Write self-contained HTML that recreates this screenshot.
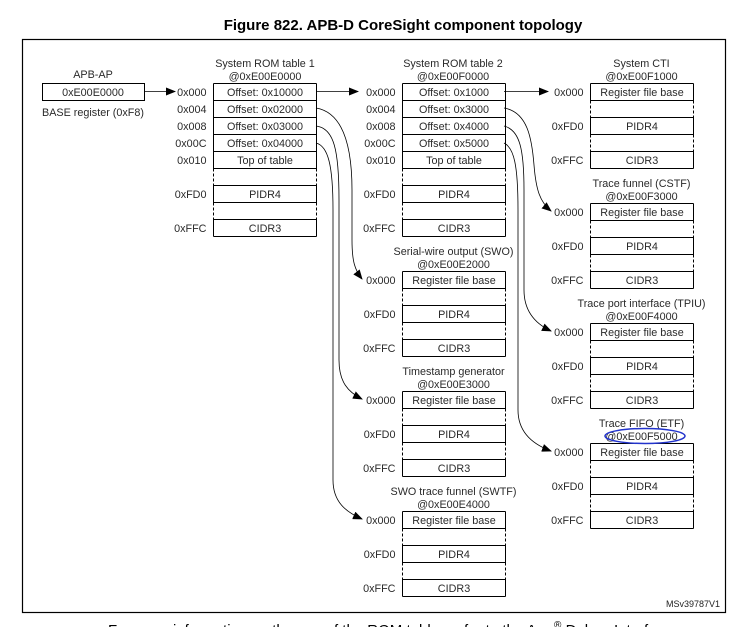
<!DOCTYPE html>
<html><head><meta charset="utf-8"><style>
html,body{margin:0;padding:0;background:#fff;}
svg{display:block;font-family:"Liberation Sans",Arial,sans-serif;}
</style></head><body>
<svg id="s" width="751" height="627" viewBox="0 0 751 627" xmlns="http://www.w3.org/2000/svg">
<defs><marker id="a" markerWidth="10" markerHeight="8" refX="9" refY="4" orient="auto" markerUnits="userSpaceOnUse"><path d="M0,0 L10,4 L0,8 Z" fill="#000"/></marker></defs>
<text x="403" y="30" font-size="15" font-weight="bold" text-anchor="middle" fill="#000">Figure 822. APB-D CoreSight component topology</text>
<rect x="22.5" y="39.5" width="703" height="573" fill="none" stroke="#000" stroke-width="1.2"/>
<g id="g" fill="#2a2a2a" font-size="10.8"></g>
<text x="720" y="607" font-size="9" text-anchor="end" fill="#222">MSv39787V1</text>
<text x="108" y="635" font-size="15" fill="#000">For more information on the use of the ROM tables refer to the Arm<tspan font-size="10" dy="-7">®</tspan><tspan dy="7"> Debug Interface</tspan></text>
<ellipse cx="645" cy="436" rx="40" ry="7.5" fill="none" stroke="#2233cc" stroke-width="1.5"/>
<g fill="none" stroke="#000" stroke-width="0.8">
<path d="M144,91.5 L175,91.5" marker-end="url(#a)"/>
<path d="M316,91.5 L358,91.5" marker-end="url(#a)"/>
<path d="M504,91.5 L548,91.5" marker-end="url(#a)"/>
<path d="M316,108 C340,112 352,140 352,190 L352,240 C352,262 355,270 362,279" marker-end="url(#a)"/>
<path d="M316,126 C334,128 339,150 339,200 L339,360 C339,382 348,392 362,399" marker-end="url(#a)"/>
<path d="M316,143 C328,146 333,165 333,210 L333,480 C333,502 346,512 362,519" marker-end="url(#a)"/>
<path d="M504,108 C528,112 532,140 534,165 C536,190 540,202 551,211" marker-end="url(#a)"/>
<path d="M504,126 C520,130 524,150 524,190 L524,290 C524,312 536,324 551,331" marker-end="url(#a)"/>
<path d="M504,143 C514,148 518,165 518,210 L518,410 C518,432 532,444 551,451" marker-end="url(#a)"/>
</g>
</svg>
<script>
var g=document.getElementById('g'),NS='http://www.w3.org/2000/svg';
function el(t,a,txt){var e=document.createElementNS(NS,t);for(var k in a)e.setAttribute(k,a[k]);if(txt!==undefined)e.textContent=txt;g.appendChild(e);return e;}
function txt(x,y,s,anchor){el('text',{x:x,y:y,'text-anchor':anchor||'middle'},s);}
function box(x,y,rows,w){w=w||103;var h=17;
 rows.forEach(function(r,i){var ty=y+i*h;var blank=r[1]==='';
  el('line',{x1:x,y1:ty,x2:x+w,y2:ty,stroke:'#000','stroke-width':1});
  var d=blank?{'stroke-dasharray':'3,2'}:{};
  var a1=Object.assign({x1:x,y1:ty,x2:x,y2:ty+h,stroke:'#000','stroke-width':1},d);
  var a2=Object.assign({x1:x+w,y1:ty,x2:x+w,y2:ty+h,stroke:'#000','stroke-width':1},d);
  el('line',a1);el('line',a2);
  if(r[0])txt(x-7,ty+12.5,r[0],'end');
  if(r[1])txt(x+w/2,ty+12.5,r[1]);
 });
 el('line',{x1:x,y1:y+rows.length*h,x2:x+w,y2:y+rows.length*h,stroke:'#000','stroke-width':1});
}
function rom(o){return [['0x000','Offset: '+o[0]],['0x004','Offset: '+o[1]],['0x008','Offset: '+o[2]],['0x00C','Offset: '+o[3]],['0x010','Top of table'],['',''],['0xFD0','PIDR4'],['',''],['0xFFC','CIDR3']];}
var comp=[['0x000','Register file base'],['',''],['0xFD0','PIDR4'],['',''],['0xFFC','CIDR3']];
txt(93,78,'APB-AP');
el('rect',{x:42.5,y:83.5,width:102,height:17,fill:'none',stroke:'#000'});
txt(93,96,'0xE00E0000');
txt(42,116,'BASE register (0xF8)','start');
txt(265,67,'System ROM table 1');txt(265,80,'@0xE00E0000');
box(213.5,83.5,rom(['0x10000','0x02000','0x03000','0x04000']));
txt(453,67,'System ROM table 2');txt(453,80,'@0xE00F0000');
box(402.5,83.5,rom(['0x1000','0x3000','0x4000','0x5000']));
function c(x,y,t1,t2){txt(x+51,y-16.5,t1);txt(x+51,y-3.5,t2);box(x,y,comp);}
c(590.5,83.5,'System CTI','@0xE00F1000');
c(590.5,203.5,'Trace funnel (CSTF)','@0xE00F3000');
c(590.5,323.5,'Trace port interface (TPIU)','@0xE00F4000');
c(590.5,443.5,'Trace FIFO  (ETF)','@0xE00F5000');
c(402.5,271.5,'Serial-wire output (SWO)','@0xE00E2000');
c(402.5,391.5,'Timestamp generator','@0xE00E3000');
c(402.5,511.5,'SWO trace funnel (SWTF)','@0xE00E4000');
</script>
</body></html>
